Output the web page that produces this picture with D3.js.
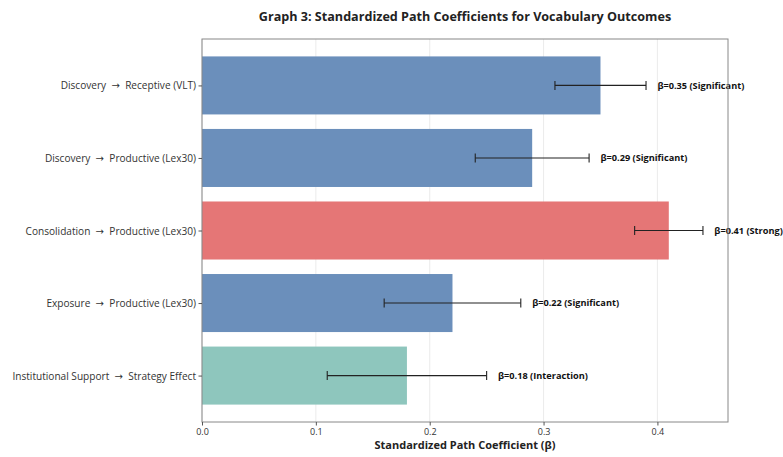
<!DOCTYPE html>
<html><head><meta charset="utf-8">
<script src="https://cdn.jsdelivr.net/npm/d3@7"></script>
<style>body{margin:0;background:#fff}svg{display:block}text{font-family:"Open Sans",sans-serif;white-space:pre}</style>
</head><body><svg id="c" width="783" height="457"></svg>
<script>
const categories = ["Discovery \u2192 Receptive (VLT)","Discovery \u2192 Productive (Lex30)","Consolidation \u2192 Productive (Lex30)","Exposure \u2192 Productive (Lex30)","Institutional Support \u2192 Strategy Effect"];
const values = [0.35,0.29,0.41,0.22,0.18];
const ciLow = [0.31,0.24,0.38,0.16,0.11];
const ciHigh = [0.39,0.34,0.44,0.28,0.25];
const notes = ["Significant","Significant","Strong","Significant","Interaction"];
const colors = ["#6b8fbb","#6b8fbb","#e57676","#6b8fbb","#8ec6bd"];
const xTicks = [0.0,0.1,0.2,0.3,0.4];

const svg = d3.select("#c");
const L=202,R=728,T=39,B=422;
const x = d3.scaleLinear().domain([0,0.462]).range([L,R]);
const y = d3.scaleLinear().domain([-0.64,4.64]).range([T,B]);
const bh = (y(0.4)-y(-0.4));

// grid
svg.append("g").selectAll("line").data(xTicks).join("line")
  .attr("x1",d=>x(d)).attr("x2",d=>x(d)).attr("y1",T).attr("y2",B)
  .attr("stroke","#e6e6e6").attr("stroke-width",0.8);

// bars
svg.append("g").selectAll("rect").data(values).join("rect")
  .attr("x",x(0)).attr("y",(d,i)=>y(i)-bh/2).attr("width",d=>x(d)-x(0)).attr("height",bh)
  .attr("fill",(d,i)=>colors[i]);

// error bars
const eb = svg.append("g").attr("stroke","#222").attr("stroke-width",1.1);
values.forEach((v,i)=>{
  eb.append("line").attr("x1",x(ciLow[i])).attr("x2",x(ciHigh[i])).attr("y1",y(i)).attr("y2",y(i));
  [ciLow[i],ciHigh[i]].forEach(c=>eb.append("line").attr("x1",x(c)).attr("x2",x(c)).attr("y1",y(i)-4.5).attr("y2",y(i)+4.5));
});

// labels
svg.append("g").selectAll("text").data(values).join("text")
  .attr("x",(d,i)=>x(ciHigh[i]+0.01)).attr("y",(d,i)=>y(i)).attr("dy","0.35em")
  .attr("font-size",9.2).attr("font-weight","bold").attr("fill","#111")
  .text((d,i)=>`\u03b2=${d.toFixed(2)} (${notes[i]})`);

// frame
svg.append("rect").attr("x",L).attr("y",T).attr("width",R-L).attr("height",B-T)
  .attr("fill","none").attr("stroke","#888").attr("stroke-width",1);

// axes
const xa = svg.append("g").attr("transform",`translate(0,${B})`)
  .call(d3.axisBottom(x).tickValues(xTicks).tickFormat(d3.format(".1f")).tickSize(3.5).tickPadding(3));
xa.select(".domain").remove();
xa.selectAll("text").attr("font-size",9).attr("fill","#333").style("font-family","'Open Sans',sans-serif");
xa.selectAll("line").attr("stroke","#555");

const ya = svg.append("g").attr("transform",`translate(${L},0)`)
  .call(d3.axisLeft(y).tickValues(d3.range(categories.length)).tickFormat("").tickSize(3.5).tickPadding(3));
ya.select(".domain").remove();
ya.selectAll("line").attr("stroke","#555");
ya.selectAll(".tick").append("text").attr("x",-6).attr("dy","0.35em").attr("text-anchor","end")
  .attr("font-size",10.1).attr("fill","#333").style("font-family","'Open Sans',sans-serif")
  .each(function(i){
    const parts = categories[i].split(" \u2192 ");
    const t = d3.select(this);
    t.append("tspan").text(parts[0]+"\u00a0\u00a0");
    t.append("tspan").style("font-family","'DejaVu Sans'").text("\u2192");
    t.append("tspan").text("\u00a0\u00a0"+parts[1]);
  });

svg.append("text").attr("x",(L+R)/2).attr("y",449).attr("text-anchor","middle")
  .attr("font-size",11).attr("font-weight","bold").attr("fill","#222").text("Standardized Path Coefficient (\u03b2)");
svg.append("text").attr("x",(L+R)/2).attr("y",21).attr("text-anchor","middle")
  .attr("font-size",12.6).attr("font-weight","bold").attr("fill","#222").text("Graph 3: Standardized Path Coefficients for Vocabulary Outcomes");
</script></body></html>
